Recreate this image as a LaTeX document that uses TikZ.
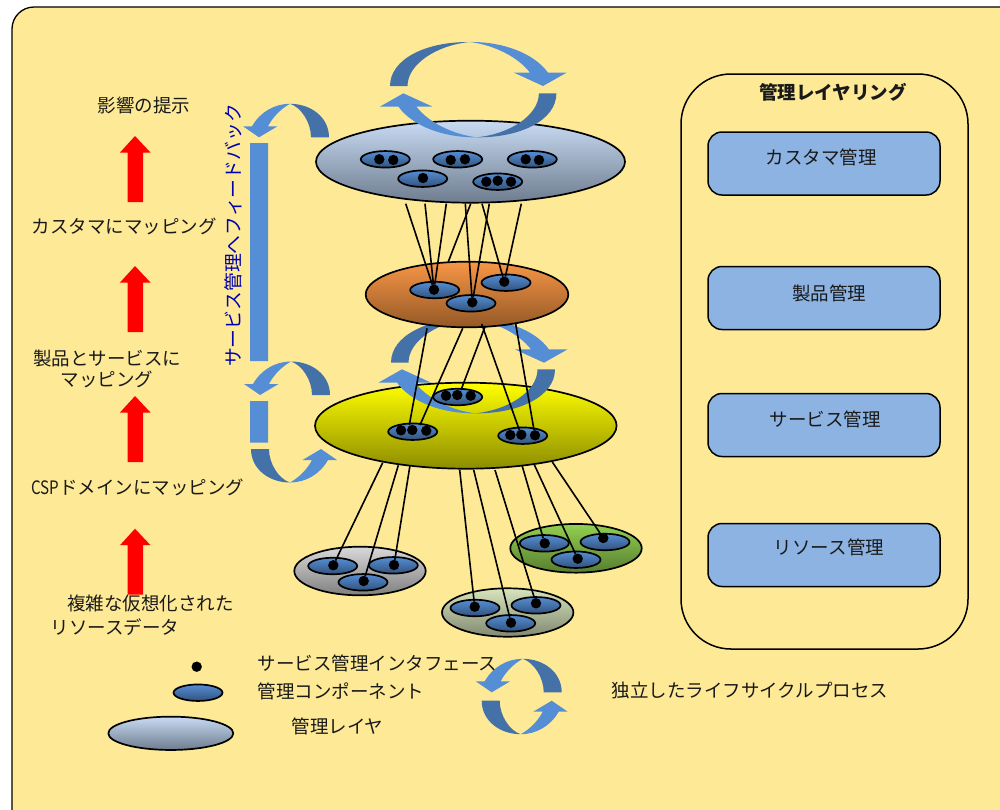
\documentclass[tikz,border=0pt]{standalone}
\usepackage{fontspec}
\setmainfont{Noto Sans CJK JP}
\usetikzlibrary{shapes.geometric}
\definecolor{paper}{HTML}{FEEA96}
\definecolor{cycdark}{HTML}{4472A8}
\definecolor{cyclight}{HTML}{558ED5}
\definecolor{boxblue}{HTML}{8DB3E2}
\definecolor{custtop}{RGB}{200,219,243}
\definecolor{custbot}{RGB}{110,124,142}
\newcommand{\bigcycle}[2]{
	\begin{scope}[shift={(#1)},#2]
		\fill[cycdark] (0,0)--(17.5,0) .. controls (17.5,-22) and (47,-41) .. (80,-44) .. controls (36,-44.5) and (0,-27) .. (0,0)--cycle;
		\fill[cyclight] (80,-44) .. controls (112,-44.5) and (144,-33) .. (158,-13.3)--(176.5,-13.3)--(153,0)--(124,-13.3)--(140,-13.3) .. controls (128,-29) and (104,-41) .. (80,-44)--cycle;
	\end{scope}
}
\newcommand{\smallcycle}[2]{
	\begin{scope}[shift={(#1)},#2]
		\fill[cycdark] (0,0)--(18,0) .. controls (18,-15) and (28,-30) .. (39,-33.5) .. controls (18,-33.5) and (0,-20) .. (0,0)--cycle;
		\fill[cyclight] (39,-33.5) .. controls (55,-33.5) and (69,-25) .. (77,-11)--(86,-11)--(70,0)--(51.5,-11)--(61,-11) .. controls (57,-19) and (49,-28) .. (39,-33.5)--cycle;
	\end{scope}
}
\begin{document}
\begin{tikzpicture}[x=1pt,y=-1pt,line join=round,
	every node/.style={inner sep=0pt,outer sep=0pt},
	lbl/.style={font=\fontsize{18.5}{21}\selectfont,text=black!90,align=center},
	layer/.style={shape=ellipse,draw=black,line width=1.7pt},
	comp/.style={layer,minimum width=49pt,minimum height=16.5pt,top color=cyclight,bottom color=cyclight!58!black},
	dot/.style={shape=circle,fill=black,minimum size=10.4pt},
	link/.style={line width=1.6pt},
	manbox/.style={draw=black,line width=1.5pt,rounded corners=14pt,fill=boxblue,minimum width=232pt,minimum height=63pt}]
	\useasboundingbox (0,0) rectangle (1000,809);
	\draw[fill=paper,line width=1.3pt,rounded corners=22pt] (12,7) rectangle (1030,835);
	% red arrows on the left
	\foreach \t in {136,266,396,528.7}
		\fill[red] (135,\t)--(150.5,\t+16.5)--(143,\t+16.5)--(143,\t+66)--(127.7,\t+66)--(127.7,\t+16.5)--(120,\t+16.5)--cycle;
	% feedback bars and small cycles
	\fill[cyclight] (250,143) rectangle (268,361) (250,401) rectangle (268,442.7);
	\smallcycle{329,137.3}{xscale=-1}
	\smallcycle{330,395}{xscale=-1}
	\smallcycle{251,449}{yscale=-1}
	\node[lbl,text=blue!70!black,rotate=90,font=\fontsize{18.8}{21}\selectfont] (feedback) at (233,235.5) {サービス管理へフィードバック};
	% layers and the cycles round them
	\bigcycle{390,86}{}
	\node[layer,minimum width=309pt,minimum height=82pt,top color=custtop,bottom color=custbot] (custlayer) at (470.5,161.7) {};
	\bigcycle{556.4,93.3}{xscale=-1,yscale=-1}
	\bigcycle{391,362.7}{}
	\node[layer,minimum width=202.6pt,minimum height=65.6pt,top color={rgb,255:red,247;green,150;blue,70},bottom color={rgb,255:red,148;green,88;blue,38}] (prodlayer) at (467,294.5) {};
	\node[layer,minimum width=301.6pt,minimum height=86pt,top color=yellow,bottom color={rgb,255:red,140;green,140;blue,0}] (servlayer) at (465.8,425.7) {};
	\bigcycle{555,369.3}{xscale=-1,yscale=-1}
	\node[layer,minimum width=131.4pt,minimum height=48.6pt,top color=black!15,bottom color=black!50] (greylayer) at (360,571) {};
	\node[layer,minimum width=131.4pt,minimum height=48.4pt,top color={rgb,255:red,215;green,228;blue,188},bottom color={rgb,255:red,129;green,137;blue,113}] (palelayer) at (507.7,612.5) {};
	\node[layer,minimum width=131.4pt,minimum height=48.7pt,top color={rgb,255:red,146;green,208;blue,80},bottom color={rgb,255:red,88;green,125;blue,48}] (greenlayer) at (576,548.3) {};
	% management components
	\foreach \n/\x/\y in {ca/385.3/159.3,cb/457.7/159.3,cc/532.3/159.3,cd/422.7/178.7,ce/497.7/181.7,
		pa/434.7/290,pb/471/303.3,pc/506/282.7,
		sa/457.7/397,sb/412.7/431.7,sc/522.7/435.7,
		ga/332.7/566,gb/363/582.3,gc/393.3/565.3,
		la/475/608,lb/510.7/623.3,lc/536/605.3,
		na/544.3/543.3,nb/576/559.7,nc/605/542}
		\node[comp] (\n) at (\x,\y) {};
	% interface dots
	\foreach \n/\x/\y in {ca1/379.3/159.3,ca2/393.3/160,cb1/450.7/160,cb2/465/159.3,cc1/525.7/159.3,cc2/539/160,cd1/423/178,
		ce1/486.3/181.7,ce2/497.7/180.7,ce3/511/181.7,
		pa1/434/289.7,pb1/472.3/302.3,pc1/504.3/281.7,
		sa1/446/395.7,sa2/457.3/395,sa3/470.7/395.7,sb1/401/430.3,sb2/412.3/430,sb3/426.3/430.7,
		sc1/510.3/435,sc2/521.3/434.7,sc3/535/435.3,
		ga1/333.3/565.3,gb1/363.7/581,gc1/394/565,
		la1/474.7/606.7,lb1/511/622.7,lc1/536/603.3,
		na1/544.7/543.3,nb1/577.7/558.7,nc1/603.3/538}
		\node[dot] (\n) at (\x,\y) {};
	% free ends of the connectors
	\foreach \n/\x/\y in {ua/405.7/203.7,ub/425/203.7,uc/446.3/203.7,ud/470.7/203.7,ue/465.3/203.7,uf/489.3/203.7,ug/482/203.7,uh/521.3/203.7,
		rim/448.3/261.7,
		oa/427/328.3,ob/462.7/328.3,oc/485/326.7,od/481.7/324,oe/515.7/324,
		ra/409.3/425,rb/420/425,rc/461/390,rd/519.3/430,re/534/430,
		ya/382.7/462.7,yb/398.3/465.3,yc/410/465.3,yd/459.7/470,ye/473.7/470,yf/495/470,yg/522/465.3,yh/534.3/464.7,yi/552.3/462}
		\coordinate (\n) at (\x,\y);
	\foreach \a/\b in {ua/pa1,ub/pa1,uc/pa1,ud/rim,ue/pb1,uf/pb1,ug/pc1,uh/pc1,
		oa/ra,ob/rb,oc/rc,od/rd,oe/re,
		ya/ga1,yb/gb1,yc/gc1,yd/la1,ye/lb1,yf/lc1,yg/na1,yh/nb1,yi/nc1}
		\draw[link] (\a)--(\b);
	% left column
	\node[lbl] (impact) at (144,105) {影響の提示};
	\node[lbl] (mapcust) at (124,226) {カスタマにマッピング};
	\node[lbl] (mapprod) at (107,368.5) {製品とサービスに\\マッピング};
	\node[lbl] (mapcsp) at (138,487) {\scalebox{0.82}[1]{CSP}ドメインにマッピング};
	\node[lbl] (rawa) at (150.5,603) {複雑な仮想化された};
	\node[lbl] (rawb) at (115,627) {リソースデータ};
	% management layering
	\node[draw=black,line width=1.5pt,rounded corners=50pt,minimum width=287pt,minimum height=575pt] (layering) at (824.5,361.5) {};
	\node[lbl,font=\fontsize{18.5}{21}\selectfont\bfseries] (layeringtitle) at (833,92) {管理レイヤリング};
	\node[manbox] (custbox) at (824,163.5) {};
	\node[manbox] (prodbox) at (824,298) {};
	\node[manbox] (servbox) at (824,425) {};
	\node[manbox] (resbox) at (824,555) {};
	\node[lbl] (custtext) at (821,157) {カスタマ管理};
	\node[lbl] (prodtext) at (829,293) {製品管理};
	\node[lbl] (servtext) at (825,419) {サービス管理};
	\node[lbl] (restext) at (829,547) {リソース管理};
	% legend
	\node[dot] (legdot) at (196.7,666.7) {};
	\node[comp] (legcomp) at (198,692.7) {};
	\node[layer,minimum width=125pt,minimum height=33.3pt,top color=custtop,bottom color=custbot] (leglayer) at (170.8,733.3) {};
	\smallcycle{561.7,692.3}{xscale=-1}
	\smallcycle{481.7,700.7}{yscale=-1}
	\node[lbl] (legdottext) at (377.5,663) {サービス管理インタフェース};
	\node[lbl] (legcomptext) at (341,691) {管理コンポーネント};
	\node[lbl] (leglayertext) at (337.5,726) {管理レイヤ};
	\node[lbl] (legcycletext) at (750,690) {独立したライフサイクルプロセス};
\end{tikzpicture}
\end{document}
